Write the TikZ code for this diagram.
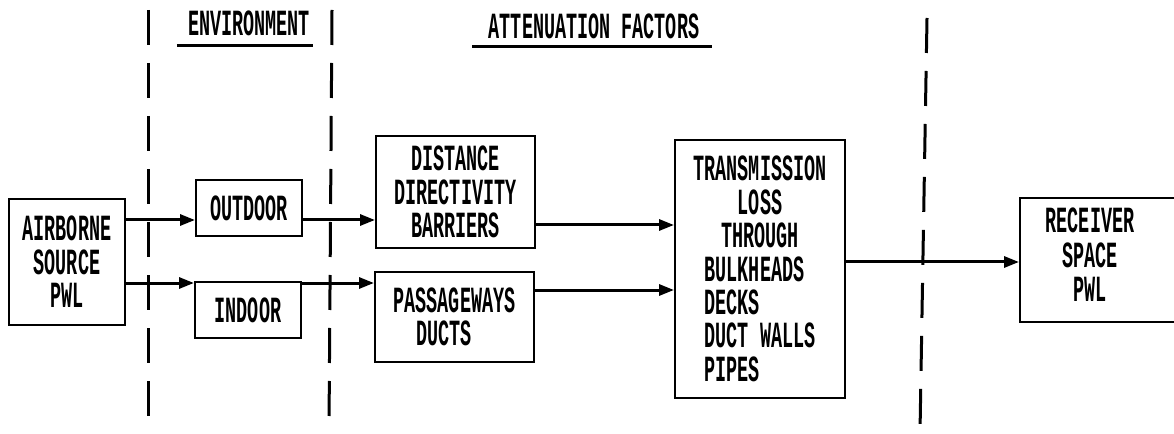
\documentclass[tikz,border=0pt]{standalone}
\usepackage{fontspec}
\usepackage{calc}
\newfontfamily\plotfont[FakeStretch=0.5]{Liberation Mono Bold}
\usetikzlibrary{arrows.meta,positioning}
\tikzset{
    blk/.style={draw, line width=0.4mm, inner sep=0pt, align=center, font=\plotfont\fontsize{21}{19}\selectfont},
    heading/.style={inner sep=0pt, font=\plotfont\fontsize{21}{19}\selectfont},
    flow/.style={line width=0.6mm, -{Triangle[length=3mm,width=2.2mm]}},
    zone/.style={line width=0.6mm, dash pattern=on 7mm off 3.6mm},
    rule/.style={line width=0.6mm}}
\newcommand\padl[1]{\makebox[\widthof{DUCT WALLS}][l]{#1}}

\begin{document}
\begin{tikzpicture}[x=0.2mm,y=-0.2mm]
\useasboundingbox (0,0) rectangle (1174,434);

% zone boundaries
\coordinate (d1t) at (148,10);
\coordinate (d1b) at (148,428);
\coordinate (d2t) at (332,10);
\coordinate (d2b) at (329,428);
\coordinate (d3t) at (927,18);
\coordinate (d3b) at (920,432);
\draw[zone] (d1t) -- (d1b);
\draw[zone] (d2t) -- (d2b);
\draw[zone] (d3t) -- (d3b);

% headings
\node[heading] (env) at (249,23) {ENVIRONMENT};
\node[heading] (att) at (594,26) {ATTENUATION FACTORS};
\draw[rule] ([xshift=-2.2mm,yshift=-2mm]env.south west) -- ([xshift=0.6mm,yshift=-2mm]env.south east);
\draw[rule] ([xshift=-3.2mm,yshift=-1.6mm]att.south west) -- ([xshift=2.4mm,yshift=-1.6mm]att.south east);

% blocks
\node[blk, minimum width=23mm, minimum height=25mm] (src) at (67,262) {AIRBORNE\\SOURCE\\PWL};
\node[blk, minimum width=21.2mm, minimum height=11.2mm] (out) at (249,208) {OUTDOOR};
\node[blk, minimum width=21.2mm, minimum height=11mm] (ind) at (248,310) {INDOOR};
\node[blk, minimum width=31.8mm, minimum height=22.4mm] (dist) at (455.5,192) {DISTANCE\\DIRECTIVITY\\BARRIERS};
\node[blk, align=left, minimum width=31.8mm, minimum height=18mm] (pass) at (454.5,317) {PASSAGEWAYS\\\hspace*{4.6mm}DUCTS};
\node[blk, minimum width=34mm, minimum height=51.6mm] (trans) at (760,269)
    {TRANSMISSION\\LOSS\\THROUGH\\\padl{BULKHEADS}\\\padl{DECKS}\\\padl{DUCT WALLS}\\\padl{PIPES}};
\node[blk, minimum width=36mm, minimum height=24.8mm] (recv) at (1110,260)
    {\begin{tabular}{@{}c@{\hspace{8mm}}}RECEIVER\\SPACE\\PWL\end{tabular}};

% signal paths
\coordinate (rowA) at (0,220);
\coordinate (rowB) at (0,283);
\coordinate (rowC) at (0,225);
\coordinate (rowD) at (0,290);
\coordinate (rowE) at (0,262);
\draw[flow] (src.east |- rowA) -- (out.west |- rowA);
\draw[flow] (src.east |- rowB) -- (ind.west |- rowB);
\draw[flow] (out.east |- rowA) -- (dist.west |- rowA);
\draw[flow] (ind.east |- rowB) -- (pass.west |- rowB);
\draw[flow] (dist.east |- rowC) -- (trans.west |- rowC);
\draw[flow] (pass.east |- rowD) -- (trans.west |- rowD);
\draw[flow] (trans.east |- rowE) -- (recv.west |- rowE);
\end{tikzpicture}
\end{document}
